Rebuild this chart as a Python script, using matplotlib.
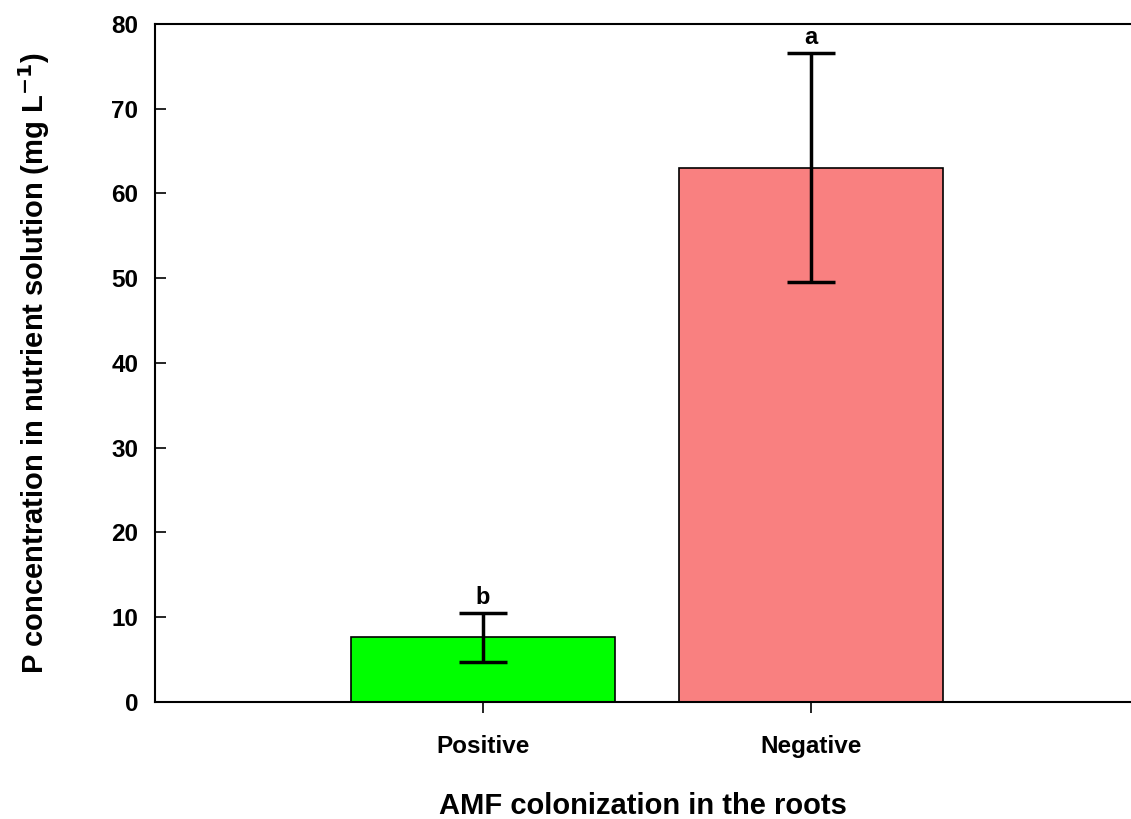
import matplotlib.pyplot as plt
import numpy as np

plt.rcParams['font.family'] = ['Liberation Sans', 'DejaVu Sans']
plt.rcParams['font.weight'] = 'bold'

groups = ['Positive', 'Negative']
p_conc = [7.6, 63.0]
p_err = [2.85, 13.5]
letters = ['b', 'a']
colors = ['#00ff00', '#f98080']

fig = plt.figure(figsize=(11.31, 8.19), dpi=100)
ax = fig.add_axes([0.137, 0.143, 0.863, 0.828])

x = np.arange(1, len(groups) + 1)
ax.bar(x, p_conc, width=0.805, color=colors, edgecolor='black', linewidth=1.2)
ax.errorbar(x, p_conc, yerr=p_err, fmt='none', ecolor='black',
            elinewidth=2.5, capsize=17, capthick=2.5)
for xi, m, e, t in zip(x, p_conc, p_err, letters):
    ax.text(xi, m + e + 0.5, t, ha='center', va='bottom', fontsize=17, fontweight='bold')

ax.set_xlim(0, 2.975)
ax.set_ylim(0, 80)
ax.set_yticks(np.arange(0, 81, 10))
ax.set_xticks(x)
ax.set_xticklabels(groups)
ax.tick_params(axis='y', direction='in', length=8, width=1.2, labelsize=17.5, pad=12)
ax.tick_params(axis='x', direction='out', length=8, width=1.2, labelsize=17.5, pad=16)
for lab in ax.get_xticklabels() + ax.get_yticklabels():
    lab.set_fontweight('bold')
ax.spines['right'].set_visible(False)
for s in ['left', 'top', 'bottom']:
    ax.spines[s].set_linewidth(1.5)

ax.set_xlabel('AMF colonization in the roots', fontsize=21, fontweight='bold', labelpad=24)
ax.set_ylabel(r'P concentration in nutrient solution (mg L$^{\mathbf{-1}}$)',
              fontsize=21, fontweight='bold', labelpad=43)

fig.savefig('out.png', dpi=100)
